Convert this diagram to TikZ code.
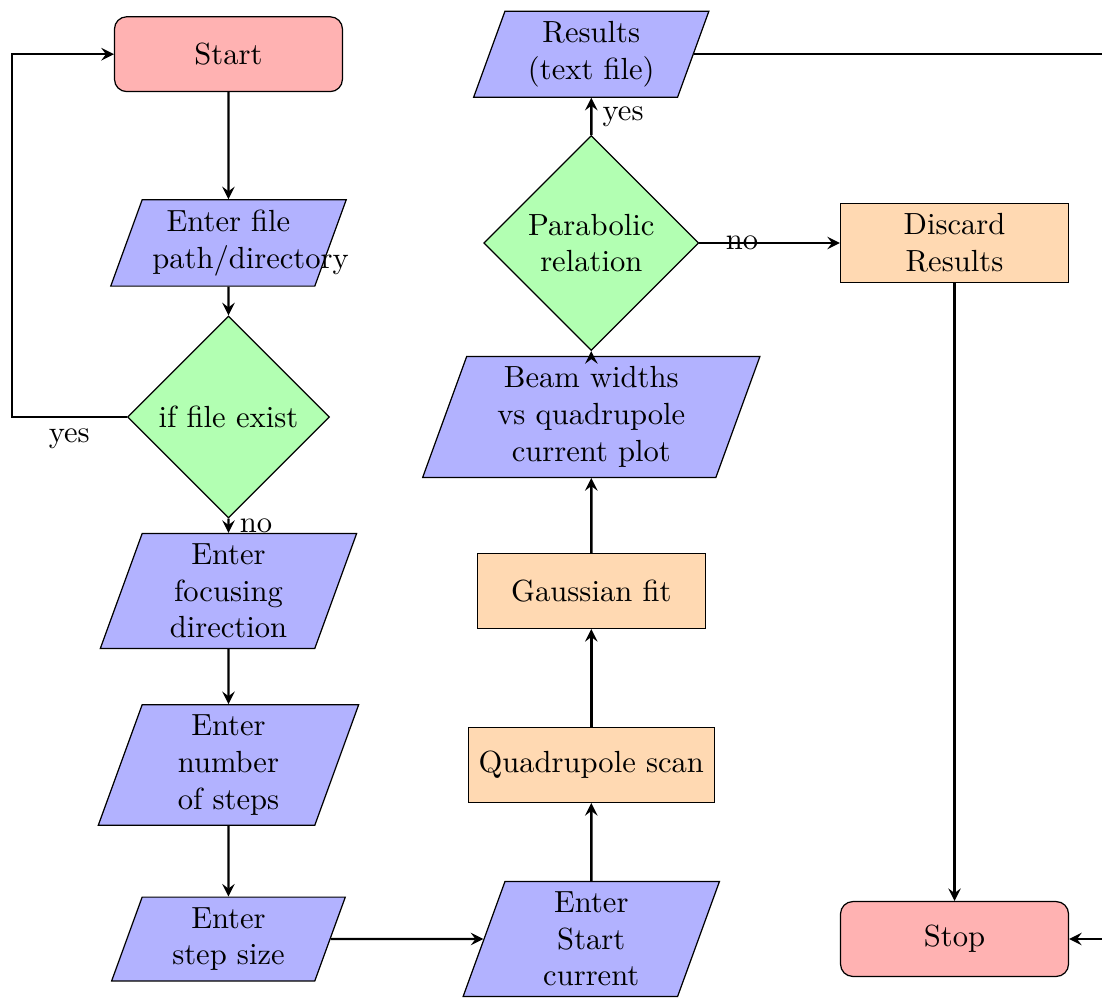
\documentclass[tikz,border=0pt]{standalone}
\usepackage{tikz}
\usetikzlibrary{shapes.geometric, arrows.meta}

\begin{document}
\begin{tikzpicture}
	 \tikzstyle{startstop}=[rectangle, rounded corners, minimum width=2.62cm, minimum height=0.86cm, draw=black, fill=red!30]
	 \tikzstyle{io}=[trapezium, trapezium left angle=70, trapezium right angle=110, text width=1.75cm, align=center, draw=black, fill=blue!30]
	 \tikzstyle{process}=[rectangle, minimum width=2.62cm, minimum height=0.86cm, align=center, draw=black, fill=orange!30]
	 \tikzstyle{decision}=[diamond, align=center, draw=black, fill=green!30]
	 \tikzstyle{arrow}=[thick, ->, >=stealth]
	 \useasboundingbox (-2.626,-0.678) rectangle (10.04,10.793);
	 \node[startstop] (start) at (0,10.17) {Start};
	 \node[io] (file) at (0,8) {Enter file\\path/directory};
	 \node[decision] (exist) at (0,6) {if file exist};
	 \node[io] (focus) at (0,4) {Enter\\focusing\\direction};
	 \node[io] (nsteps) at (0,2) {Enter\\number\\of steps};
	 \node[io] (size) at (0,0) {Enter\\step size};
	 \node[io] (current) at (4.17,0) {Enter\\Start\\current};
	 \node[process] (scan) at (4.17,2) {Quadrupole scan};
	 \node[process] (fit) at (4.17,4) {Gaussian fit};
	 \node[io, text width=2.63cm] (plot) at (4.17,6) {Beam widths\\vs quadrupole\\current plot};
	 \node[decision, inner sep=2.5pt] (parab) at (4.17,8) {Parabolic\\relation};
	 \node[io] (results) at (4.17,10.17) {Results\\(text file)};
	 \node[process] (discard) at (8.345,8) {Discard\\Results};
	 \node[startstop] (stop) at (8.345,0) {Stop};
	 \coordinate (loop) at (-2.49,6);
	 \coordinate (back) at (10.5,8);
	 \draw[arrow] (start) -- (file);
	 \draw[arrow] (file) -- (exist);
	 \draw[arrow] (exist) -- node[right] {no} (focus);
	 \draw[arrow] (exist) -- node[below] {yes} (loop) |- (start);
	 \draw[arrow] (focus) -- (nsteps);
	 \draw[arrow] (nsteps) -- (size);
	 \draw[arrow] (size) -- (current);
	 \draw[arrow] (current) -- (scan);
	 \draw[arrow] (scan) -- (fit);
	 \draw[arrow] (fit) -- (plot);
	 \draw[arrow] (plot) -- (parab);
	 \draw[arrow] (parab) -- node[right] {yes} (results);
	 \draw[arrow] (parab) -- node[left] {no} (discard);
	 \draw[arrow] (discard) -- (stop);
	 \draw[arrow] (results) -| (back) |- (stop);
 \end{tikzpicture}
\end{document}
